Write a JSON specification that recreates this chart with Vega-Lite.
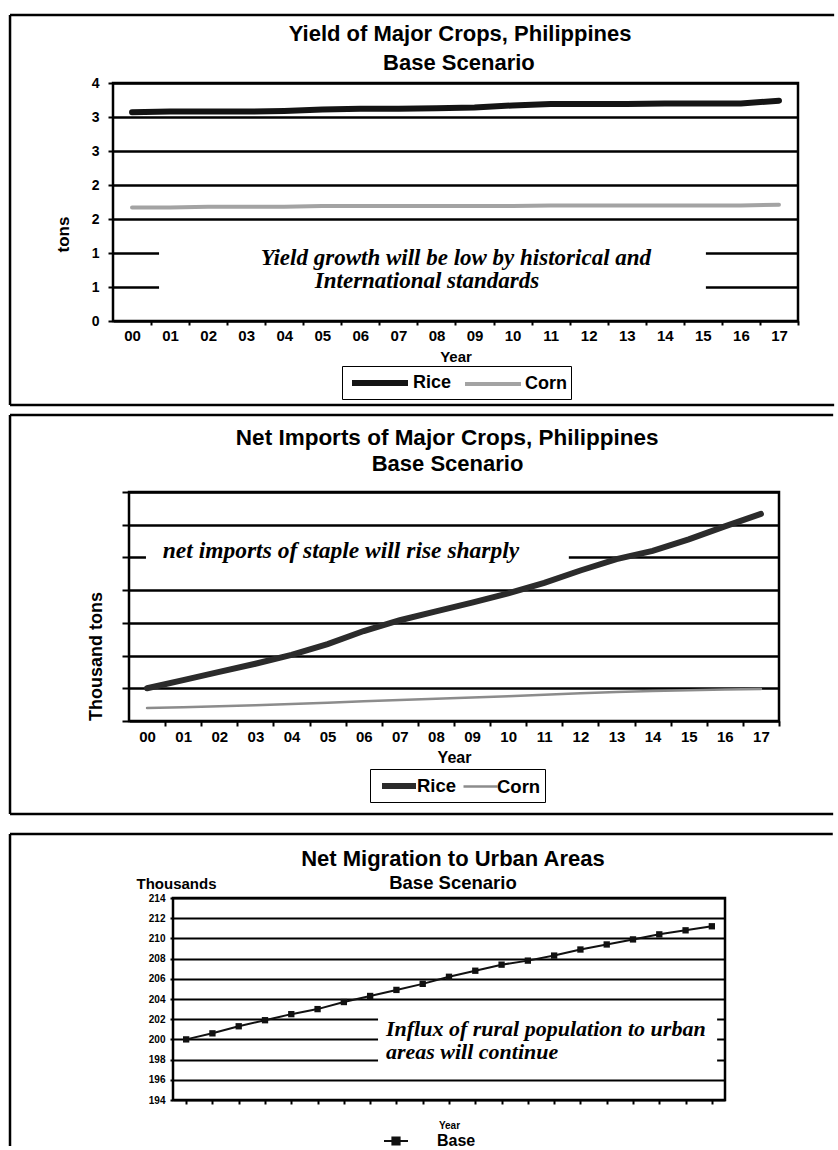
{
  "$schema": "https://vega.github.io/schema/vega-lite/v6.json",
  "padding": {"left": 6, "top": 12, "right": 0, "bottom": 0},
  "background": "white",
  "spacing": 4,
  "resolve": {"scale": {"color": "independent", "strokeWidth": "independent"}, "legend": {"color": "independent", "strokeWidth": "independent"}},
  "config": {
    "font": "Liberation Sans",
    "view": {"stroke": null},
    "axis": {"labelFont": "Liberation Sans", "labelFontWeight": "bold", "labelColor": "black", "titleFont": "Liberation Sans", "titleFontWeight": "bold", "titleColor": "black", "tickColor": "black", "gridColor": "black", "domain": false, "labelOverlap": false, "labelFlush": false},
    "legend": {"labelFont": "Liberation Sans", "labelFontWeight": "bold", "labelColor": "black"}
  },
  "datasets": {
    "yield": [
      {"year": 2000, "crop": "Rice", "tons": 3.07}, {"year": 2001, "crop": "Rice", "tons": 3.08}, {"year": 2002, "crop": "Rice", "tons": 3.08}, {"year": 2003, "crop": "Rice", "tons": 3.08}, {"year": 2004, "crop": "Rice", "tons": 3.09}, {"year": 2005, "crop": "Rice", "tons": 3.11}, {"year": 2006, "crop": "Rice", "tons": 3.12}, {"year": 2007, "crop": "Rice", "tons": 3.12}, {"year": 2008, "crop": "Rice", "tons": 3.13}, {"year": 2009, "crop": "Rice", "tons": 3.14}, {"year": 2010, "crop": "Rice", "tons": 3.17}, {"year": 2011, "crop": "Rice", "tons": 3.19}, {"year": 2012, "crop": "Rice", "tons": 3.19}, {"year": 2013, "crop": "Rice", "tons": 3.19}, {"year": 2014, "crop": "Rice", "tons": 3.2}, {"year": 2015, "crop": "Rice", "tons": 3.2}, {"year": 2016, "crop": "Rice", "tons": 3.2}, {"year": 2017, "crop": "Rice", "tons": 3.24},
      {"year": 2000, "crop": "Corn", "tons": 1.67}, {"year": 2001, "crop": "Corn", "tons": 1.67}, {"year": 2002, "crop": "Corn", "tons": 1.68}, {"year": 2003, "crop": "Corn", "tons": 1.68}, {"year": 2004, "crop": "Corn", "tons": 1.68}, {"year": 2005, "crop": "Corn", "tons": 1.69}, {"year": 2006, "crop": "Corn", "tons": 1.69}, {"year": 2007, "crop": "Corn", "tons": 1.69}, {"year": 2008, "crop": "Corn", "tons": 1.69}, {"year": 2009, "crop": "Corn", "tons": 1.69}, {"year": 2010, "crop": "Corn", "tons": 1.69}, {"year": 2011, "crop": "Corn", "tons": 1.7}, {"year": 2012, "crop": "Corn", "tons": 1.7}, {"year": 2013, "crop": "Corn", "tons": 1.7}, {"year": 2014, "crop": "Corn", "tons": 1.7}, {"year": 2015, "crop": "Corn", "tons": 1.7}, {"year": 2016, "crop": "Corn", "tons": 1.7}, {"year": 2017, "crop": "Corn", "tons": 1.71}
    ],
    "imports": [
      {"year": 2000, "crop": "Rice", "kt": 200}, {"year": 2001, "crop": "Rice", "kt": 250}, {"year": 2002, "crop": "Rice", "kt": 300}, {"year": 2003, "crop": "Rice", "kt": 350}, {"year": 2004, "crop": "Rice", "kt": 404}, {"year": 2005, "crop": "Rice", "kt": 470}, {"year": 2006, "crop": "Rice", "kt": 550}, {"year": 2007, "crop": "Rice", "kt": 616}, {"year": 2008, "crop": "Rice", "kt": 670}, {"year": 2009, "crop": "Rice", "kt": 724}, {"year": 2010, "crop": "Rice", "kt": 780}, {"year": 2011, "crop": "Rice", "kt": 844}, {"year": 2012, "crop": "Rice", "kt": 920}, {"year": 2013, "crop": "Rice", "kt": 990}, {"year": 2014, "crop": "Rice", "kt": 1040}, {"year": 2015, "crop": "Rice", "kt": 1110}, {"year": 2016, "crop": "Rice", "kt": 1190}, {"year": 2017, "crop": "Rice", "kt": 1266},
      {"year": 2000, "crop": "Corn", "kt": 80}, {"year": 2001, "crop": "Corn", "kt": 84}, {"year": 2002, "crop": "Corn", "kt": 90}, {"year": 2003, "crop": "Corn", "kt": 96}, {"year": 2004, "crop": "Corn", "kt": 104}, {"year": 2005, "crop": "Corn", "kt": 112}, {"year": 2006, "crop": "Corn", "kt": 120}, {"year": 2007, "crop": "Corn", "kt": 128}, {"year": 2008, "crop": "Corn", "kt": 136}, {"year": 2009, "crop": "Corn", "kt": 144}, {"year": 2010, "crop": "Corn", "kt": 152}, {"year": 2011, "crop": "Corn", "kt": 160}, {"year": 2012, "crop": "Corn", "kt": 170}, {"year": 2013, "crop": "Corn", "kt": 178}, {"year": 2014, "crop": "Corn", "kt": 184}, {"year": 2015, "crop": "Corn", "kt": 188}, {"year": 2016, "crop": "Corn", "kt": 192}, {"year": 2017, "crop": "Corn", "kt": 196}
    ],
    "migration": [
      {"year": 2000, "series": "Base", "thousands": 200.0}, {"year": 2001, "series": "Base", "thousands": 200.6}, {"year": 2002, "series": "Base", "thousands": 201.3}, {"year": 2003, "series": "Base", "thousands": 201.9}, {"year": 2004, "series": "Base", "thousands": 202.5}, {"year": 2005, "series": "Base", "thousands": 203.0}, {"year": 2006, "series": "Base", "thousands": 203.7}, {"year": 2007, "series": "Base", "thousands": 204.3}, {"year": 2008, "series": "Base", "thousands": 204.9}, {"year": 2009, "series": "Base", "thousands": 205.5}, {"year": 2010, "series": "Base", "thousands": 206.2}, {"year": 2011, "series": "Base", "thousands": 206.8}, {"year": 2012, "series": "Base", "thousands": 207.4}, {"year": 2013, "series": "Base", "thousands": 207.8}, {"year": 2014, "series": "Base", "thousands": 208.3}, {"year": 2015, "series": "Base", "thousands": 208.9}, {"year": 2016, "series": "Base", "thousands": 209.4}, {"year": 2017, "series": "Base", "thousands": 209.9}, {"year": 2018, "series": "Base", "thousands": 210.4}, {"year": 2019, "series": "Base", "thousands": 210.8}, {"year": 2020, "series": "Base", "thousands": 211.2}
    ]
  },
  "vconcat": [
    {
      "spacing": 0,
      "hconcat": [
        {"width": 1, "height": 1, "view": {"stroke": null}, "data": {"values": []}, "mark": {"type": "point", "opacity": 0}, "encoding": {}},
        {
          "width": 685, "height": 238,
          "view": {"stroke": "black", "strokeWidth": 2.5},
          "layer": [
            {"data": {"values": [{}]}, "mark": {"type": "rule", "clip": false, "color": "black", "strokeWidth": 2.5},
             "encoding": {
               "x": {"datum": 1996.794, "type": "quantitative", "scale": {"domain": [1999.5, 2017.5], "nice": false, "zero": false},
                     "axis": {"values": [2000, 2001, 2002, 2003, 2004, 2005, 2006, 2007, 2008, 2009, 2010, 2011, 2012, 2013, 2014, 2015, 2016, 2017], "tickCount": 30, "labelExpr": "format(datum.value % 100, '02d')", "grid": false, "ticks": true, "tickSize": 4, "tickWidth": 2, "tickOffset": 19, "labelOffset": -19, "labelFontSize": 15, "labelPadding": 3, "title": "Year", "titleFontSize": 15, "titlePadding": 6}},
               "x2": {"datum": 2018.45},
               "y": {"datum": 4.5, "type": "quantitative", "scale": {"domain": [0, 3.5], "nice": false, "zero": false},
                     "axis": {"values": [0, 0.5, 1, 1.5, 2, 2.5, 3, 3.5], "tickCount": 20, "labelExpr": "'' + round(datum.value)", "grid": true, "gridWidth": 2.5, "ticks": true, "tickSize": 5, "tickWidth": 2, "labelFontSize": 14, "labelPadding": 9, "title": "tons", "titleFontSize": 17, "titleX": -50, "titleY": 151, "titleAngle": -90, "titleAlign": "center", "titleBaseline": "middle"}}}},
            {"data": {"values": [{}]}, "mark": {"type": "rule", "clip": false, "color": "black", "strokeWidth": 2.5},
             "encoding": {"x": {"datum": 1996.794, "type": "quantitative"}, "x2": {"datum": 2018.45}, "y": {"datum": -1.235, "type": "quantitative"}}},
            {"data": {"values": [{}]}, "mark": {"type": "rule", "clip": false, "color": "black", "strokeWidth": 2.5},
             "encoding": {"x": {"datum": 1996.794, "type": "quantitative"}, "y": {"datum": 4.5, "type": "quantitative"}, "y2": {"datum": -1.235}}},
            {"data": {"values": [{}]}, "mark": {"type": "rect", "fill": "white"},
             "encoding": {"x": {"datum": 2000.71, "type": "quantitative"}, "x2": {"datum": 2015.08}, "y": {"datum": 0.25, "type": "quantitative"}, "y2": {"datum": 1.25}}},
            {"data": {"values": [{}]}, "mark": {"type": "text", "clip": false, "text": "Yield of Major Crops, Philippines", "font": "Liberation Sans", "fontWeight": "bold", "fontSize": 22, "align": "center", "baseline": "middle", "color": "black"},
             "encoding": {"x": {"datum": 2008.62, "type": "quantitative"}, "y": {"datum": 4.22, "type": "quantitative"}}},
            {"data": {"values": [{}]}, "mark": {"type": "text", "clip": false, "text": "Base Scenario", "font": "Liberation Sans", "fontWeight": "bold", "fontSize": 22, "align": "center", "baseline": "middle", "color": "black"},
             "encoding": {"x": {"datum": 2008.59, "type": "quantitative"}, "y": {"datum": 3.794, "type": "quantitative"}}},
            {"data": {"values": [{}]}, "mark": {"type": "text", "text": "Yield growth will be low by historical and", "font": "Liberation Serif", "fontStyle": "italic", "fontWeight": "bold", "fontSize": 23, "align": "center", "baseline": "middle", "color": "black"},
             "encoding": {"x": {"datum": 2008.51, "type": "quantitative"}, "y": {"datum": 0.925, "type": "quantitative"}}},
            {"data": {"values": [{}]}, "mark": {"type": "text", "text": "International standards", "font": "Liberation Serif", "fontStyle": "italic", "fontWeight": "bold", "fontSize": 23, "align": "center", "baseline": "middle", "color": "black"},
             "encoding": {"x": {"datum": 2007.75, "type": "quantitative"}, "y": {"datum": 0.585, "type": "quantitative"}}},
            {"data": {"name": "yield"}, "mark": {"type": "line", "strokeCap": "round"},
             "encoding": {
               "x": {"field": "year", "type": "quantitative", "scale": {"domain": [1999.5, 2017.5], "nice": false, "zero": false},
                     "axis": {"values": [2000, 2001, 2002, 2003, 2004, 2005, 2006, 2007, 2008, 2009, 2010, 2011, 2012, 2013, 2014, 2015, 2016, 2017], "tickCount": 30, "labelExpr": "format(datum.value % 100, '02d')", "grid": false, "ticks": true, "tickSize": 4, "tickWidth": 2, "tickOffset": 19, "labelOffset": -19, "labelFontSize": 15, "labelPadding": 3, "title": "Year", "titleFontSize": 15, "titlePadding": 6}},
               "y": {"field": "tons", "type": "quantitative", "scale": {"domain": [0, 3.5], "nice": false, "zero": false},
                     "axis": {"values": [0, 0.5, 1, 1.5, 2, 2.5, 3, 3.5], "tickCount": 20, "labelExpr": "'' + round(datum.value)", "grid": true, "gridWidth": 2.5, "ticks": true, "tickSize": 5, "tickWidth": 2, "labelFontSize": 14, "labelPadding": 9, "title": "tons", "titleFontSize": 17, "titleX": -50, "titleY": 151, "titleAngle": -90, "titleAlign": "center", "titleBaseline": "middle"}},
               "color": {"field": "crop", "type": "nominal", "scale": {"domain": ["Rice", "Corn"], "range": ["#141414", "#a3a3a3"]},
                         "legend": {"orient": "none", "legendX": 336, "legendY": 283, "direction": "horizontal", "title": null, "strokeColor": "black", "fillColor": "white", "padding": 4, "symbolType": "M-2.8,0H2.8", "symbolSize": 400, "symbolStrokeWidth": 5, "symbolOffset": 21, "labelOffset": 20, "labelFontSize": 18, "columnPadding": 5}},
               "strokeWidth": {"field": "crop", "type": "ordinal", "scale": {"domain": ["Rice", "Corn"], "range": [6, 4]}, "legend": null}
             }}
          ]
        }
      ]
    },
    {
      "spacing": 0,
      "hconcat": [
        {"width": 1, "height": 335, "view": {"stroke": null}, "data": {"values": []}, "mark": {"type": "point", "opacity": 0}, "encoding": {}},
        {
          "width": 650, "height": 229,
          "view": {"stroke": "black", "strokeWidth": 2.5},
          "layer": [
            {"data": {"values": [{}]}, "mark": {"type": "rule", "clip": false, "color": "black", "strokeWidth": 2.5},
             "encoding": {
               "x": {"datum": 1996.205, "type": "quantitative", "scale": {"domain": [1999.5, 2017.5], "nice": false, "zero": false},
                     "axis": {"values": [2000, 2001, 2002, 2003, 2004, 2005, 2006, 2007, 2008, 2009, 2010, 2011, 2012, 2013, 2014, 2015, 2016, 2017], "tickCount": 30, "labelExpr": "format(datum.value % 100, '02d')", "grid": false, "ticks": true, "tickSize": 5, "tickWidth": 2, "tickOffset": 18, "labelOffset": -18, "labelFontSize": 15, "labelPadding": 3, "title": "Year", "titleFontSize": 16, "titlePadding": 5}},
               "x2": {"datum": 2019.0},
               "y": {"datum": 1870.7, "type": "quantitative", "scale": {"domain": [0, 1400], "nice": false, "zero": false},
                     "axis": {"values": [0, 200, 400, 600, 800, 1000, 1200, 1400], "tickCount": 20, "labels": false, "grid": true, "gridWidth": 2.5, "ticks": true, "tickSize": 7, "tickWidth": 2, "title": "Thousand tons", "titleFontSize": 18, "titleX": -33, "titleY": 164, "titleAngle": -90, "titleAlign": "center", "titleBaseline": "middle"}}}},
            {"data": {"values": [{}]}, "mark": {"type": "rule", "clip": false, "color": "black", "strokeWidth": 2.5},
             "encoding": {"x": {"datum": 1996.205, "type": "quantitative"}, "x2": {"datum": 2019.0}, "y": {"datum": -568.6, "type": "quantitative"}}},
            {"data": {"values": [{}]}, "mark": {"type": "rule", "clip": false, "color": "black", "strokeWidth": 2.5},
             "encoding": {"x": {"datum": 1996.205, "type": "quantitative"}, "y": {"datum": 1870.7, "type": "quantitative"}, "y2": {"datum": -568.6}}},
            {"data": {"values": [{}]}, "mark": {"type": "rect", "fill": "white"},
             "encoding": {"x": {"datum": 1999.97, "type": "quantitative"}, "x2": {"datum": 2011.68}, "y": {"datum": 900, "type": "quantitative"}, "y2": {"datum": 1120}}},
            {"data": {"values": [{}]}, "mark": {"type": "text", "clip": false, "text": "Net Imports of Major Crops, Philippines", "font": "Liberation Sans", "fontWeight": "bold", "fontSize": 22.5, "align": "center", "baseline": "middle", "color": "black"},
             "encoding": {"x": {"datum": 2008.31, "type": "quantitative"}, "y": {"datum": 1730, "type": "quantitative"}}},
            {"data": {"values": [{}]}, "mark": {"type": "text", "clip": false, "text": "Base Scenario", "font": "Liberation Sans", "fontWeight": "bold", "fontSize": 22, "align": "center", "baseline": "middle", "color": "black"},
             "encoding": {"x": {"datum": 2008.32, "type": "quantitative"}, "y": {"datum": 1571, "type": "quantitative"}}},
            {"data": {"values": [{}]}, "mark": {"type": "text", "text": "net imports of staple will rise sharply", "font": "Liberation Serif", "fontStyle": "italic", "fontWeight": "bold", "fontSize": 23.5, "align": "center", "baseline": "middle", "color": "black"},
             "encoding": {"x": {"datum": 2005.37, "type": "quantitative"}, "y": {"datum": 1039, "type": "quantitative"}}},
            {"data": {"name": "imports"}, "mark": {"type": "line", "strokeCap": "round"},
             "encoding": {
               "x": {"field": "year", "type": "quantitative", "scale": {"domain": [1999.5, 2017.5], "nice": false, "zero": false},
                     "axis": {"values": [2000, 2001, 2002, 2003, 2004, 2005, 2006, 2007, 2008, 2009, 2010, 2011, 2012, 2013, 2014, 2015, 2016, 2017], "tickCount": 30, "labelExpr": "format(datum.value % 100, '02d')", "grid": false, "ticks": true, "tickSize": 5, "tickWidth": 2, "tickOffset": 18, "labelOffset": -18, "labelFontSize": 15, "labelPadding": 3, "title": "Year", "titleFontSize": 16, "titlePadding": 5}},
               "y": {"field": "kt", "type": "quantitative", "scale": {"domain": [0, 1400], "nice": false, "zero": false},
                     "axis": {"values": [0, 200, 400, 600, 800, 1000, 1200, 1400], "tickCount": 20, "labels": false, "grid": true, "gridWidth": 2.5, "ticks": true, "tickSize": 7, "tickWidth": 2, "title": "Thousand tons", "titleFontSize": 18, "titleX": -33, "titleY": 164, "titleAngle": -90, "titleAlign": "center", "titleBaseline": "middle"}},
               "color": {"field": "crop", "type": "nominal", "scale": {"domain": ["Rice", "Corn"], "range": ["#2b2b2b", "#8c8c8c"]},
                         "legend": {"orient": "none", "legendX": 364, "legendY": 277, "direction": "horizontal", "title": null, "strokeColor": "black", "fillColor": "white", "padding": 4, "symbolType": "M-1.7,0H1.7", "symbolSize": 400, "symbolStrokeWidth": 4, "symbolOffset": 12, "labelOffset": 5, "labelFontSize": 18.5, "columnPadding": 0}},
               "strokeWidth": {"field": "crop", "type": "ordinal", "scale": {"domain": ["Rice", "Corn"], "range": [6, 2.5]}, "legend": null}
             }}
          ]
        }
      ]
    },
    {
      "spacing": 0,
      "hconcat": [
        {"width": 1, "height": 1, "view": {"stroke": null}, "data": {"values": []}, "mark": {"type": "point", "opacity": 0}, "encoding": {}},
        {
          "width": 552, "height": 202,
          "view": {"stroke": "black", "strokeWidth": 2.5},
          "layer": [
            {"data": {"values": [{}]}, "mark": {"type": "rule", "clip": false, "color": "black", "strokeWidth": 2.5},
             "encoding": {
               "x": {"datum": 1993.299, "type": "quantitative", "scale": {"domain": [1999.5, 2020.5], "nice": false, "zero": false},
                     "axis": {"values": [2000, 2001, 2002, 2003, 2004, 2005, 2006, 2007, 2008, 2009, 2010, 2011, 2012, 2013, 2014, 2015, 2016, 2017, 2018, 2019, 2020], "tickCount": 30, "labels": false, "grid": false, "ticks": true, "tickSize": 4, "tickWidth": 2, "title": "Year", "titleFontSize": 10, "titlePadding": 15}},
               "x2": {"datum": 2024.6},
               "y": {"datum": 220.34, "type": "quantitative", "scale": {"domain": [194, 214], "nice": false, "zero": false},
                     "axis": {"values": [194, 196, 198, 200, 202, 204, 206, 208, 210, 212, 214], "tickCount": 20, "grid": true, "gridWidth": 2, "ticks": true, "tickSize": 3, "tickWidth": 2, "labelFontSize": 10, "labelPadding": 5, "title": "Thousands", "titleFontSize": 15, "titleAngle": 0, "titleX": 3, "titleY": -15, "titleAlign": "center", "titleBaseline": "middle"}}}},
            {"data": {"values": [{}]}, "mark": {"type": "rule", "clip": false, "color": "black", "strokeWidth": 2.5},
             "encoding": {"x": {"datum": 1993.299, "type": "quantitative"}, "y": {"datum": 220.34, "type": "quantitative"}, "y2": {"datum": 189.45}}},
            {"data": {"values": [{}]}, "mark": {"type": "rect", "fill": "white"},
             "encoding": {"x": {"datum": 2007.3, "type": "quantitative"}, "x2": {"datum": 2020.2}, "y": {"datum": 197.2, "type": "quantitative"}, "y2": {"datum": 202.9}}},
            {"data": {"values": [{}]}, "mark": {"type": "text", "clip": false, "text": "Net Migration to Urban Areas", "font": "Liberation Sans", "fontWeight": "bold", "fontSize": 22, "align": "center", "baseline": "middle", "color": "black"},
             "encoding": {"x": {"datum": 2010.15, "type": "quantitative"}, "y": {"datum": 217.86, "type": "quantitative"}}},
            {"data": {"values": [{}]}, "mark": {"type": "text", "clip": false, "text": "Base Scenario", "font": "Liberation Sans", "fontWeight": "bold", "fontSize": 18.5, "align": "center", "baseline": "middle", "color": "black"},
             "encoding": {"x": {"datum": 2010.15, "type": "quantitative"}, "y": {"datum": 215.49, "type": "quantitative"}}},
            {"data": {"values": [{}]}, "mark": {"type": "text", "text": "Influx of rural population to urban", "font": "Liberation Serif", "fontStyle": "italic", "fontWeight": "bold", "fontSize": 22, "align": "left", "baseline": "middle", "color": "black"},
             "encoding": {"x": {"datum": 2007.6, "type": "quantitative"}, "y": {"datum": 201.0, "type": "quantitative"}}},
            {"data": {"values": [{}]}, "mark": {"type": "text", "text": "areas will continue", "font": "Liberation Serif", "fontStyle": "italic", "fontWeight": "bold", "fontSize": 22, "align": "left", "baseline": "middle", "color": "black"},
             "encoding": {"x": {"datum": 2007.6, "type": "quantitative"}, "y": {"datum": 198.75, "type": "quantitative"}}},
            {"data": {"name": "migration"}, "mark": {"type": "line", "strokeWidth": 2, "point": {"shape": "square", "size": 40, "filled": true}},
             "encoding": {
               "x": {"field": "year", "type": "quantitative", "scale": {"domain": [1999.5, 2020.5], "nice": false, "zero": false},
                     "axis": {"values": [2000, 2001, 2002, 2003, 2004, 2005, 2006, 2007, 2008, 2009, 2010, 2011, 2012, 2013, 2014, 2015, 2016, 2017, 2018, 2019, 2020], "tickCount": 30, "labels": false, "grid": false, "ticks": true, "tickSize": 4, "tickWidth": 2, "title": "Year", "titleFontSize": 10, "titlePadding": 15}},
               "y": {"field": "thousands", "type": "quantitative", "scale": {"domain": [194, 214], "nice": false, "zero": false},
                     "axis": {"values": [194, 196, 198, 200, 202, 204, 206, 208, 210, 212, 214], "tickCount": 20, "grid": true, "gridWidth": 2, "ticks": true, "tickSize": 3, "tickWidth": 2, "labelFontSize": 10, "labelPadding": 5, "title": "Thousands", "titleFontSize": 15, "titleAngle": 0, "titleX": 3, "titleY": -15, "titleAlign": "center", "titleBaseline": "middle"}},
               "color": {"field": "series", "type": "nominal", "scale": {"domain": ["Base"], "range": ["#111111"]},
                         "legend": {"orient": "none", "legendX": 376, "legendY": 235, "title": null, "padding": 0, "symbolType": "M-2,0H2M-0.6,-0.6H0.6V0.6H-0.6Z", "symbolSize": 144, "symbolStrokeWidth": 2, "symbolFillColor": "#333333", "symbolOffset": 6, "labelOffset": 33, "labelFontSize": 16}}
             }}
          ]
        }
      ]
    }
  ]
}
